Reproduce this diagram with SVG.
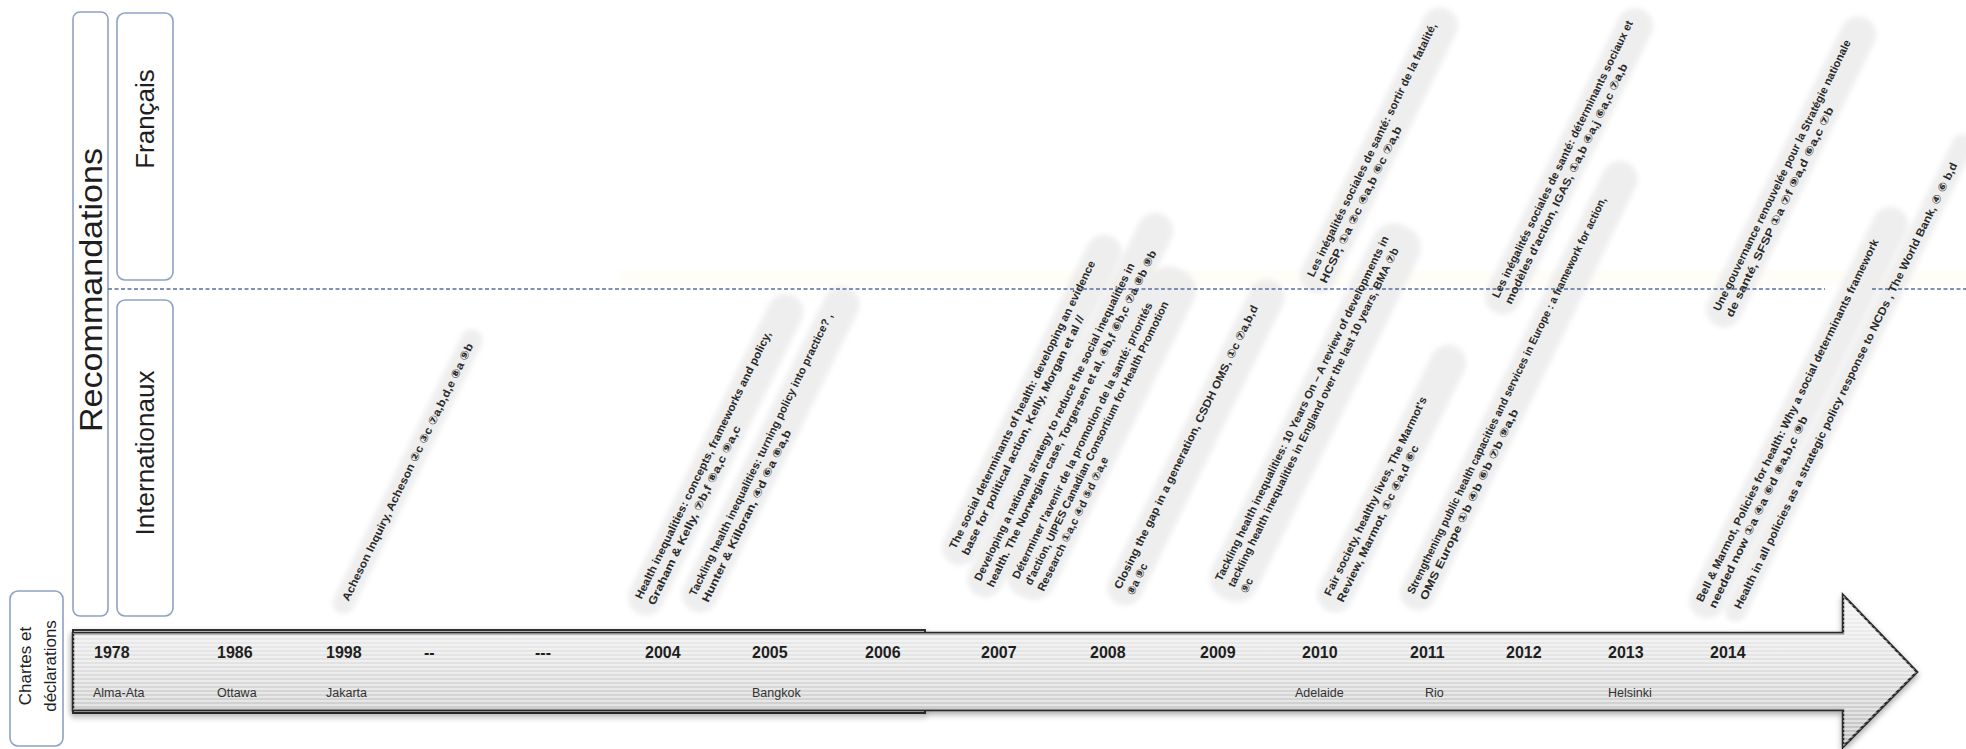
<svg xmlns="http://www.w3.org/2000/svg" width="1966" height="749" viewBox="0 0 1966 749">
<style>
.box{fill:#fff;stroke:#8fa1c6;stroke-width:1.6}
.side{font-family:"Liberation Sans","DejaVu Sans",sans-serif;fill:#1e1e1e;text-anchor:middle;dominant-baseline:central}
.yr{font-family:"Liberation Sans","DejaVu Sans",sans-serif;font-size:16px;font-weight:bold;fill:#1e1e1e}
.loc{font-family:"Liberation Sans","DejaVu Sans",sans-serif;font-size:12.5px;fill:#333}
.lbl{font-family:"Liberation Sans","DejaVu Sans","Noto Sans CJK SC",sans-serif;font-size:11px;font-weight:bold;fill:#2a2a2a}
.pill{fill:#e9e9e9;opacity:.75;filter:url(#soft)}
.sep{fill:none;stroke:#5b6e9e;stroke-width:1.6;stroke-dasharray:4 2.5}
</style>
<defs>
<linearGradient id="barG" x1="0" y1="595" x2="0" y2="747" gradientUnits="userSpaceOnUse">
<stop offset="0" stop-color="#f4f4f4"/>
<stop offset="0.45" stop-color="#e2e2e2"/>
<stop offset="1" stop-color="#bdbdbd"/>
</linearGradient>
<pattern id="stripes" width="4" height="4" patternUnits="userSpaceOnUse">
<rect width="4" height="2" fill="#ffffff" opacity="0.45"/>
</pattern>
<filter id="shadow" x="-5%" y="-30%" width="110%" height="160%">
<feDropShadow dx="0" dy="3" stdDeviation="3" flood-color="#000" flood-opacity="0.35"/>
</filter>
<filter id="soft" x="-20%" y="-50%" width="140%" height="200%">
<feGaussianBlur stdDeviation="2.5"/>
</filter>
</defs>

<rect width="1966" height="749" fill="#ffffff"/>
<rect x="620" y="270" width="1346" height="16" fill="#fffbf2" opacity="0.6"/>

<g id="recommandations">
<rect class="box" x="73" y="12" width="35" height="604" rx="7"/>
<text class="side" font-size="32" textLength="284" lengthAdjust="spacingAndGlyphs" transform="translate(90.5,290) rotate(-90)">Recommandations</text>
</g>
<g id="francais">
<rect class="box" x="117" y="13" width="56" height="267" rx="8"/>
<text class="side" font-size="26" transform="translate(145,119) rotate(-90)">Français</text>
</g>
<g id="internationaux">
<rect class="box" x="117" y="300" width="56" height="316" rx="8"/>
<text class="side" font-size="26" transform="translate(145,453) rotate(-90)">Internationaux</text>
</g>
<g id="chartes">
<rect class="box" x="10" y="591" width="53" height="155" rx="8"/>
<text class="side" font-size="17" transform="translate(25,666) rotate(-90)">Chartes et</text>
<text class="side" font-size="17" transform="translate(50,666) rotate(-90)">déclarations</text>
</g>

<g id="timeline">
<rect x="73" y="630" width="852" height="83" fill="none" stroke="#333" stroke-width="2" filter="url(#shadow)"/>
<path d="M73,633 L1843,633 L1843,595 L1917,672 L1843,747 L1843,710 L73,710 Z" fill="url(#barG)" stroke="#2b2b2b" stroke-width="2.5" stroke-linejoin="miter" filter="url(#shadow)"/>
<path d="M73,633 L1843,633 L1843,595 L1917,672 L1843,747 L1843,710 L73,710 Z" fill="url(#stripes)"/>
<g>
<text class="yr" x="94" y="658">1978</text>
<text class="yr" x="217" y="658">1986</text>
<text class="yr" x="326" y="658">1998</text>
<text class="yr" x="424" y="658">--</text>
<text class="yr" x="535" y="658">---</text>
<text class="yr" x="645" y="658">2004</text>
<text class="yr" x="752" y="658">2005</text>
<text class="yr" x="865" y="658">2006</text>
<text class="yr" x="981" y="658">2007</text>
<text class="yr" x="1090" y="658">2008</text>
<text class="yr" x="1200" y="658">2009</text>
<text class="yr" x="1302" y="658">2010</text>
<text class="yr" x="1410" y="658">2011</text>
<text class="yr" x="1506" y="658">2012</text>
<text class="yr" x="1608" y="658">2013</text>
<text class="yr" x="1710" y="658">2014</text>
</g>
<g>
<text class="loc" x="93" y="697">Alma-Ata</text>
<text class="loc" x="217" y="697">Ottawa</text>
<text class="loc" x="326" y="697">Jakarta</text>
<text class="loc" x="752" y="697">Bangkok</text>
<text class="loc" x="1295" y="697">Adelaide</text>
<text class="loc" x="1425" y="697">Rio</text>
<text class="loc" x="1608" y="697">Helsinki</text>
</g>
</g>

<g id="pills">
<rect class="pill" transform="translate(345,600) rotate(-64)" x="-14" y="-11" width="314" height="22" rx="11"/>
<rect class="pill" transform="translate(638,598) rotate(-64)" x="-14" y="-11" width="354" height="36" rx="18"/>
<rect class="pill" transform="translate(692,595) rotate(-64)" x="-14" y="-11" width="359" height="36" rx="18"/>
<rect class="pill" transform="translate(952,548) rotate(-64)" x="-14" y="-11" width="364" height="36" rx="18"/>
<rect class="pill" transform="translate(977,580) rotate(-64)" x="-14" y="-11" width="424" height="36" rx="18"/>
<rect class="pill" transform="translate(1015,578) rotate(-64)" x="-14" y="-11" width="364" height="50" rx="22"/>
<rect class="pill" transform="translate(1117,588) rotate(-64)" x="-14" y="-11" width="359" height="36" rx="18"/>
<rect class="pill" transform="translate(1218,580) rotate(-64)" x="-14" y="-11" width="414" height="50" rx="22"/>
<rect class="pill" transform="translate(1310,276) rotate(-64)" x="-14" y="-11" width="314" height="36" rx="18"/>
<rect class="pill" transform="translate(1327,595) rotate(-64)" x="-14" y="-11" width="294" height="36" rx="18"/>
<rect class="pill" transform="translate(1410,593) rotate(-64)" x="-14" y="-11" width="496" height="36" rx="18"/>
<rect class="pill" transform="translate(1495,297) rotate(-64)" x="-14" y="-11" width="337" height="36" rx="18"/>
<rect class="pill" transform="translate(1716,310) rotate(-64)" x="-14" y="-11" width="342" height="36" rx="18"/>
<rect class="pill" transform="translate(1699,601) rotate(-64)" x="-14" y="-11" width="454" height="36" rx="18"/>
<rect class="pill" transform="translate(1737,608) rotate(-64)" x="-14" y="-11" width="540" height="22" rx="11"/>
</g>

<g id="connectors">
<line class="sep" x1="108" y1="289" x2="1825" y2="289"/>
<line class="sep" x1="1872" y1="289" x2="1966" y2="289"/>
</g>

<g id="acheson" transform="translate(345,600) rotate(-64)">
<text class="lbl" x="0" y="4" textLength="285" lengthAdjust="spacingAndGlyphs">Acheson Inquiry, Acheson ②c ③c ⑦a,b,d,e ⑧a ⑨b</text>
</g>
<g id="graham-kelly" transform="translate(638,598) rotate(-64)">
<text class="lbl" x="0" y="4" textLength="296" lengthAdjust="spacingAndGlyphs">Health inequalities: concepts, frameworks and policy,</text>
<text class="lbl" x="0" y="18" textLength="198" lengthAdjust="spacingAndGlyphs">Graham &amp; Kelly, ⑦b,f ⑧a,c ⑨a,c</text>
</g>
<g id="hunter-killoran" transform="translate(692,595) rotate(-64)">
<text class="lbl" x="0" y="4" textLength="313" lengthAdjust="spacingAndGlyphs">Tackling health inequalities: turning policy into practice? ,</text>
<text class="lbl" x="0" y="18" textLength="190" lengthAdjust="spacingAndGlyphs">Hunter &amp; Killoran, ④d ⑥a ⑧a,b</text>
</g>
<g id="kelly-morgan" transform="translate(952,548) rotate(-64)">
<text class="lbl" x="0" y="4" textLength="319" lengthAdjust="spacingAndGlyphs">The social determinants of health: developing an evidence</text>
<text class="lbl" x="0" y="18" textLength="265" lengthAdjust="spacingAndGlyphs">base for political action, Kelly, Morgan et al //</text>
</g>
<g id="torgersen" transform="translate(977,580) rotate(-64)">
<text class="lbl" x="0" y="4" textLength="352" lengthAdjust="spacingAndGlyphs">Developing a national strategy to reduce the social inequalities in</text>
<text class="lbl" x="0" y="18" textLength="373" lengthAdjust="spacingAndGlyphs">health. The Norwegian case, Torgersen et al, ④b,f ⑥b,c ⑦a ⑧b ⑨b</text>
</g>
<g id="uipes" transform="translate(1015,578) rotate(-64)">
<text class="lbl" x="0" y="4" textLength="306" lengthAdjust="spacingAndGlyphs">Déterminer l'avenir de la promotion de la santé: priorités</text>
<text class="lbl" x="0" y="18" textLength="314" lengthAdjust="spacingAndGlyphs">d'action, UIPES Canadian Consortium for Health Promotion</text>
<text class="lbl" x="0" y="32" textLength="148" lengthAdjust="spacingAndGlyphs">Research ①a,c ④d ⑤d ⑦a,e</text>
</g>
<g id="csdh" transform="translate(1117,588) rotate(-64)">
<text class="lbl" x="0" y="4" textLength="314" lengthAdjust="spacingAndGlyphs">Closing the gap in a generation, CSDH OMS, ①c ⑦a,b,d</text>
<text class="lbl" x="0" y="18">⑧a ⑨c</text>
</g>
<g id="bma" transform="translate(1218,580) rotate(-64)">
<text class="lbl" x="0" y="4" textLength="382" lengthAdjust="spacingAndGlyphs">Tackling health inequalities: 10 Years On – A review of developments in</text>
<text class="lbl" x="0" y="18" textLength="376" lengthAdjust="spacingAndGlyphs">tackling health inequalities in England over the last 10 years, BMA ⑦b</text>
<text class="lbl" x="0" y="32">⑨c</text>
</g>
<g id="hcsp" transform="translate(1310,276) rotate(-64)">
<text class="lbl" x="0" y="4" textLength="281" lengthAdjust="spacingAndGlyphs">Les inégalités sociales de santé: sortir de la fatalité,</text>
<text class="lbl" x="0" y="18" textLength="173" lengthAdjust="spacingAndGlyphs">HCSP, ①a ②c ④a,b ⑥c ⑦a,b</text>
</g>
<g id="marmot" transform="translate(1327,595) rotate(-64)">
<text class="lbl" x="0" y="4" textLength="220" lengthAdjust="spacingAndGlyphs">Fair society, healthy lives, The Marmot's</text>
<text class="lbl" x="0" y="18" textLength="173" lengthAdjust="spacingAndGlyphs">Review, Marmot, ①c ④a,d ⑥c</text>
</g>
<g id="oms-europe" transform="translate(1410,593) rotate(-64)">
<text class="lbl" x="0" y="4" textLength="440" lengthAdjust="spacingAndGlyphs">Strengthening public health capacities and services in Europe : a framework for action,</text>
<text class="lbl" x="0" y="18" textLength="211" lengthAdjust="spacingAndGlyphs">OMS Europe ①b ④b ⑥b ⑦b ⑨a,b</text>
</g>
<g id="igas" transform="translate(1495,297) rotate(-64)">
<text class="lbl" x="0" y="4" textLength="307" lengthAdjust="spacingAndGlyphs">Les inégalités sociales de santé: déterminants sociaux et</text>
<text class="lbl" x="0" y="18" textLength="266" lengthAdjust="spacingAndGlyphs">modèles d'action, IGAS, ①a,b ④a,j ⑥a,c ⑦a,b</text>
</g>
<g id="sfsp" transform="translate(1716,310) rotate(-64)">
<text class="lbl" x="0" y="4" textLength="300" lengthAdjust="spacingAndGlyphs">Une gouvernance renouvelée pour la Stratégie nationale</text>
<text class="lbl" x="0" y="18" textLength="232" lengthAdjust="spacingAndGlyphs">de santé, SFSP ①a ⑦f ⑨a,d ⑥a,c ⑦b</text>
</g>
<g id="bell-marmot" transform="translate(1699,601) rotate(-64)">
<text class="lbl" x="0" y="4" textLength="402" lengthAdjust="spacingAndGlyphs">Bell &amp; Marmot, Policies for health: Why a social determinants framework</text>
<text class="lbl" x="0" y="18" textLength="212" lengthAdjust="spacingAndGlyphs">needed now ①a ④a ⑥d ⑧a,b,c ⑨b</text>
</g>
<g id="world-bank" transform="translate(1737,608) rotate(-64)">
<text class="lbl" x="0" y="4" textLength="495" lengthAdjust="spacingAndGlyphs">Health in all policies as a strategic policy response to NCDs , The World Bank, ④ ⑥ b,d</text>
</g>
</svg>
